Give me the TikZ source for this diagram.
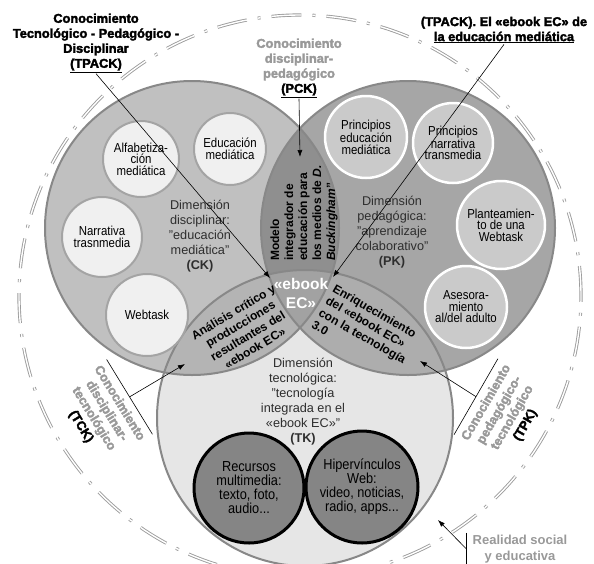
\documentclass[tikz,border=0pt]{standalone}
\usepackage{fontspec}
\setmainfont{Liberation Sans}
\newfontfamily\narrowfont[FakeStretch=0.88]{Liberation Sans}
\newfontfamily\heavyfont[UprightFeatures={FakeBold=2.5},BoldFeatures={FakeBold=2.5}]{Liberation Sans}
\usetikzlibrary{arrows.meta}

\definecolor{tkfill}{HTML}{E6E6E6}
\definecolor{ckfill}{HTML}{C0C0C0}
\definecolor{pkfill}{HTML}{A6A6A6}
\definecolor{ctfill}{HTML}{B4B4B4}
\definecolor{ptfill}{HTML}{ADADAD}
\definecolor{cpfill}{HTML}{8F8F8F}
\definecolor{midfill}{HTML}{A2A2A2}
\definecolor{rimgray}{HTML}{888888}
\definecolor{ringgray}{HTML}{A4A4A4}
\definecolor{ckring}{HTML}{F0F0F0}
\definecolor{pkring}{HTML}{CACACA}
\definecolor{tkring}{HTML}{858585}
\definecolor{dimgray}{HTML}{2E2E2E}
\definecolor{labelgray}{HTML}{999999}
\definecolor{outgray}{HTML}{9C9C9C}

\begin{document}
\begin{tikzpicture}[x=1pt,y=-1pt,>={Latex[length=7pt,width=5pt]},
	rim/.style={draw=rimgray,line width=2pt},
	ring/.style={circle,inner sep=0pt,align=center,text=black,
		font=\narrowfont\fontsize{13}{11.5}\selectfont},
	ringck/.style={ring,draw=ringgray,line width=2pt,fill=ckring},
	ringpk/.style={ring,draw=white,line width=2.5pt,fill=pkring},
	ringtk/.style={ring,draw=black,line width=3pt,fill=tkring,
		font=\narrowfont\fontsize{14.5}{14}\selectfont},
	dimtext/.style={align=center,text=dimgray,font=\fontsize{12.7}{15}\selectfont},
	lenstext/.style={align=center,text=black,inner sep=0pt,
		font=\bfseries\fontsize{12}{14}\selectfont},
	outlabel/.style={align=center,inner sep=1pt,
		font=\heavyfont\bfseries\fontsize{12.8}{15}\selectfont},
	lead/.style={line width=0.6pt},
	dashring/.style={draw=outgray,line width=0.9pt,double=white,double distance=1.4pt,
		dash pattern=on 30pt off 11pt on 3pt off 11pt}]

% parameters %{{{2

	\def\rbig{147pt}
	\def\rtk{148pt}
	\def\rout{281pt}

	\useasboundingbox (0,0) rectangle (594,563);

% coordinates %{{{2

	\coordinate (O) at (300,296);
	\coordinate (CK) at (192,228);
	\coordinate (PK) at (408,228);
	\coordinate (TK) at (305,418);

	\coordinate (tpacktip) at (270,278);
	\coordinate (ebooktip) at (333,277);
	\coordinate (pcktip) at (300,157);
	\coordinate (tcktip) at (185,364);
	\coordinate (tpktip) at (420,361);
	\coordinate (realtip) at (438,520);

% outer ring %{{{2

	\draw[dashring] (O) circle (\rout);

% big circles %{{{2

	\fill[tkfill] (TK) circle (\rtk);
	\fill[ckfill] (CK) circle (\rbig);
	\fill[pkfill] (PK) circle (\rbig);

% lenses %{{{2

	\begin{scope}
		\clip (CK) circle (\rbig);
		\fill[ctfill] (TK) circle (\rtk);
	\end{scope}
	\begin{scope}
		\clip (PK) circle (\rbig);
		\fill[ptfill] (TK) circle (\rtk);
	\end{scope}
	\begin{scope}
		\clip (CK) circle (\rbig);
		\fill[cpfill] (PK) circle (\rbig);
	\end{scope}
	\begin{scope}
		\clip (CK) circle (\rbig);
		\clip (PK) circle (\rbig);
		\fill[midfill] (TK) circle (\rtk);
	\end{scope}

	\draw[rim] (CK) circle (\rbig);
	\draw[rim] (PK) circle (\rbig);
	\draw[rim] (TK) circle (\rtk);

% small circles %{{{2

	\node[ringck,minimum size=76pt] (alfa) at (141,159) {Alfabetiza-\\ción\\mediática};
	\node[ringck,minimum size=72pt] (edu) at (230,149) {Educación\\mediática};
	\node[ringck,minimum size=80pt] (narr) at (102,237) {Narrativa\\trasnmedia};
	\node[ringck,minimum size=82pt] (web) at (147,315) {Webtask};

	\node[ringpk,minimum size=82pt] (pedu) at (366,137) {Principios\\educación\\mediática};
	\node[ringpk,minimum size=80pt] (pnarr) at (453,143) {Principios\\narrativa\\transmedia};
	\node[ringpk,minimum size=88pt] (plan) at (501,225) {Planteamien-\\to de una\\Webtask};
	\node[ringpk,minimum size=82pt] (ases) at (466,307) {Asesora-\\miento\\al/del adulto};

	\node[ringtk,minimum size=110pt] (recu) at (249,488) {Recursos\\multimedia:\\texto, foto,\\audio...};
	\node[ringtk,minimum size=112pt] (hiper) at (362,487) {Hipervínculos\\Web:\\video, noticias,\\radio, apps...};

% dimension texts %{{{2

	\node[dimtext] (ckdim) at (200,236) {Dimensión\\disciplinar:\\"educación\\mediática"\\\textbf{(CK)}};
	\node[dimtext] (pkdim) at (392,232) {Dimensión\\pedagógica:\\"aprendizaje\\colaborativo"\\\textbf{(PK)}};
	\node[dimtext] (tkdim) at (303,402) {Dimensión\\tecnológica:\\"tecnología\\integrada en el\\«ebook EC»"\\\textbf{(TK)}};

% lens texts %{{{2

	\node[lenstext,rotate=90,align=left] (model) at (304,213)
		{Modelo\\integrador de\\educación para\\los medios de \textit{D.}\\\textit{Buckingham}"};
	\node[lenstext,rotate=31] (anal) at (244,330)
		{Análisis crítico y\\producciones\\resultantes del\\«ebook EC»};
	\node[lenstext,rotate=-30,align=left] (enri) at (366,330)
		{Enriquecimiento\\del «ebook EC»\\con la tecnología\\3.0};
	\node[lenstext,text=white,font=\bfseries\fontsize{15.5}{19}\selectfont] (ebook) at (301,293)
		{«ebook\\EC»};

% outer labels %{{{2

	\node[outlabel] (tpack) at (96,43)
		{Conocimiento\\Tecnológico - Pedagógico -\\Disciplinar\\\underline{(TPACK)}};
	\node[outlabel] (tpackeb) at (504,30)
		{(TPACK). El «ebook EC» de\\\underline{la educación mediática}};
	\node[outlabel,text=labelgray] (pck) at (299,68)
		{Conocimiento\\disciplinar-\\pedagógico\\\textcolor{black}{\underline{(PCK)}}};
	\node[outlabel,text=labelgray,rotate=-58.5,inner ysep=6pt] (tck) at (100,415)
		{Conocimiento\\disciplinar-\\tecnológico\\\textcolor{black}{(TCK)}};
	\node[outlabel,text=labelgray,rotate=60,inner ysep=6pt] (tpk) at (506,414)
		{Conocimiento\\pedagógico-\\tecnológico\\\textcolor{black}{(TPK)}};
	\node[align=center,text=labelgray,inner xsep=6pt,inner ysep=2pt,
		font=\bfseries\fontsize{13}{16}\selectfont] (real) at (520,549)
		{Realidad social\\y educativa};

% leaders %{{{2

	\draw[lead,->] (tpack.south) -- (tpacktip);
	\draw[lead,->] (tpackeb.south) -- (ebooktip);
	\draw[lead,->] (pck.south) -- (pcktip);

	\draw[lead] (tck.north west) -- (tck.north east);
	\draw[lead,->] (tck.north) -- (tcktip);

	\draw[lead] (tpk.north west) -- (tpk.north east);
	\draw[lead,->] (tpk.north) -- (tpktip);

	\draw[lead] (real.north west) -- (real.south west);
	\draw[lead,->] (real.west) -- (realtip);

% closing %{{{2

\end{tikzpicture}
\end{document}
